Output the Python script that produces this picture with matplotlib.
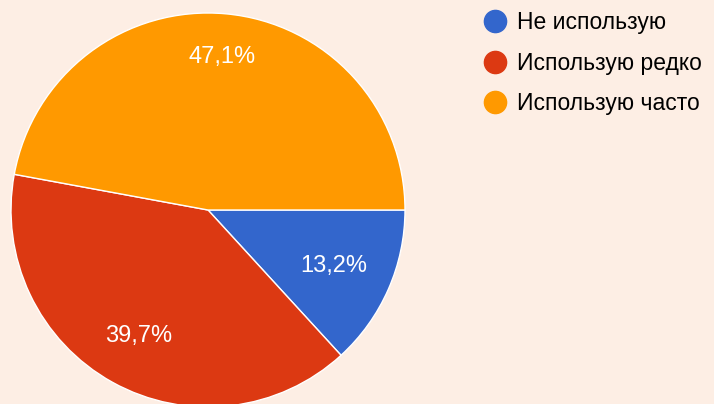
import numpy as np
import matplotlib.pyplot as plt
from matplotlib.lines import Line2D

# данные опроса
labels = ["Не использую", "Использую редко", "Использую часто"]
values = [13.2, 39.7, 47.1]
colors = ["#3366cc", "#dc3912", "#ff9900"]
bg = "#fdeee4"

plt.rcParams['font.family'] = ['Liberation Sans', 'DejaVu Sans']

fig = plt.figure(figsize=(7.14, 4.04), dpi=100, facecolor=bg)
ax = fig.add_axes([11/714, -3/404, 394/714, 394/404])
ax.set_facecolor(bg)

wedges, texts, autotexts = ax.pie(
    values, colors=colors, startangle=0, counterclock=False,
    autopct=lambda p: f"{p:.1f}%".replace(".", ","),
    wedgeprops=dict(edgecolor="white", linewidth=1),
    textprops=dict(color="white", fontsize=17))
# подписи немного на разном расстоянии, как в гугл-формах
dist = [0.70, 0.73, 0.78]
for w, t, d in zip(wedges, autotexts, dist):
    a = np.deg2rad((w.theta1 + w.theta2) / 2)
    t.set_position((d * np.cos(a), d * np.sin(a)))
ax.set_xlim(-1, 1)
ax.set_ylim(-1, 1)
ax.set_aspect("equal")
ax.axis("off")

handles = [Line2D([], [], marker="o", linestyle="none", markersize=16,
                  markerfacecolor=c, markeredgecolor=c) for c in colors]
fig.legend(handles, labels, loc="upper left",
           bbox_to_anchor=(484/714, 1 - 11/404),
           frameon=False, fontsize=16.5, handletextpad=0.45, labelspacing=0.77,
           borderaxespad=0, borderpad=0, handlelength=1.0)

plt.savefig("out.png", dpi=100, facecolor=bg)
